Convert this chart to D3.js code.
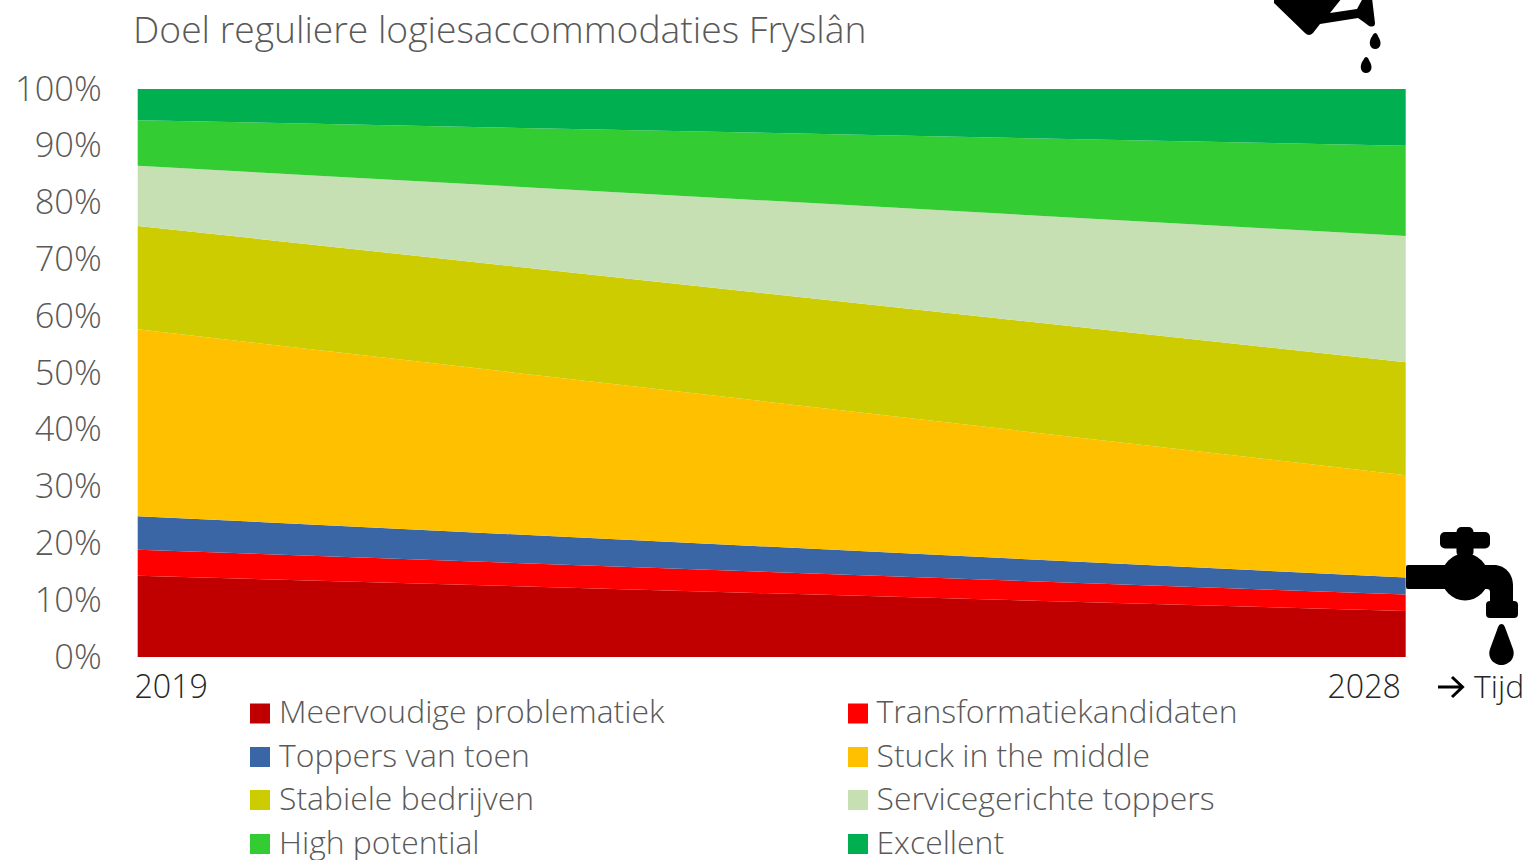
<!DOCTYPE html>
<html><head><meta charset="utf-8">
<script src="https://cdn.jsdelivr.net/npm/d3@7/dist/d3.min.js"></script>
<style>html,body{margin:0;padding:0;background:#fff;overflow:hidden}
text{font-family:"Open Sans",sans-serif;font-weight:300;fill:#595959}</style></head>
<body><svg id="c" width="1526" height="860"></svg>
<script>
const years = ["2019", "2028"];
const seriesNames = ["Meervoudige problematiek","Transformatiekandidaten","Toppers van toen","Stuck in the middle","Stabiele bedrijven","Servicegerichte toppers","High potential","Excellent"];
const seriesColors = ["#c00000","#ff0000","#3a66a5","#ffc000","#cccc00","#c6e0b4","#33cc33","#00b050"];
const values2019 = [14.3,4.6,5.9,32.9,18.2,10.6,8.0,5.5];
const values2028 = [8.1,2.9,3.0,18.0,19.9,22.2,15.9,10.0];
const yTicks = [0,10,20,30,40,50,60,70,80,90,100];

const svg = d3.select("#c");
const x = d3.scalePoint().domain(years).range([137.7,1405.7]);
const y = d3.scaleLinear().domain([0,100]).range([657,89]);

const rows = years.map((yr,i)=>{
  const r={year:yr};
  seriesNames.forEach((n,j)=>r[n]=(i?values2028:values2019)[j]);
  return r;
});
const stacked = d3.stack().keys(seriesNames)(rows);
const area = d3.area().x(d=>x(d.data.year)).y0(d=>y(d[0])).y1(d=>y(d[1]));
svg.append("g").selectAll("path").data(stacked).join("path")
  .attr("d",area).attr("fill",(d,i)=>seriesColors[i]);

// y axis labels
const yAxis = d3.axisLeft(y).tickValues(yTicks).tickFormat(d=>d+"%").tickSize(0).tickPadding(36);
const gy = svg.append("g").attr("transform","translate(137.7,0)").call(yAxis);
gy.select(".domain").remove();
gy.selectAll("text").attr("font-size",34.4).style("font-family",'"Open Sans",sans-serif').attr("dy","0.32em");

// x labels
const dark = "#262626";
svg.append("text").attr("x",134.5).attr("y",697.5).attr("font-size",32.2).style("fill",dark).text(years[0]);
svg.append("text").attr("x",1401).attr("y",697.5).attr("text-anchor","end").attr("font-size",32.2).style("fill",dark).text(years[1]);
svg.append("text").attr("x",1474).attr("y",697.5).attr("font-size",31.9).style("fill",dark).text("Tijd");
svg.append("path").attr("d","M1438 687H1462M1452 677L1462.5 687L1452 697").attr("fill","none").attr("stroke","#000").attr("stroke-width",3);

// title
svg.append("text").attr("x",133).attr("y",43).attr("font-size",37.25).text("Doel reguliere logiesaccommodaties Fryslân");

// legend
const legendX = [250,848], legendY = [713.5,757,800,844];
const lg = svg.append("g").selectAll("g").data(seriesNames).join("g")
  .attr("transform",(d,i)=>`translate(${legendX[i%2]},${legendY[Math.floor(i/2)]})`);
lg.append("rect").attr("y",-10).attr("width",20).attr("height",20).attr("fill",(d,i)=>seriesColors[i]);
lg.append("text").attr("x",(d,i)=>i%2?28.5:29).attr("y",9.5).attr("font-size",31.9).text(d=>d);

// tap icon
const tap = svg.append("g").attr("fill","#000");
tap.append("rect").attr("x",1440).attr("y",532).attr("width",50).attr("height",16.5).attr("rx",5);
tap.append("rect").attr("x",1456.5).attr("y",527).attr("width",17).attr("height",30).attr("rx",5);
tap.append("circle").attr("cx",1465).attr("cy",577).attr("r",23.5);
tap.append("path").attr("d","M1408 565H1494C1505 565 1513 574 1513 585V604H1490V592C1490 590 1489 589 1487 589H1408Q1406 589 1406 587V567Q1406 565 1408 565Z");
tap.append("rect").attr("x",1486).attr("y",601).attr("width",32).attr("height",17).attr("rx",4);
tap.append("path").attr("d","M1501.5 624C1504 624 1505 627 1506 630L1513 649C1516 658 1509 665 1501.5 665C1494 665 1487 658 1490 649L1497 630C1498 627 1499 624 1501.5 624Z");

// watering can icon
const can = svg.append("g").attr("fill","#000");
can.append("path").attr("d","M1274 3L1305 33Q1309 37 1313 33L1320 24L1358 18Q1364 22 1369 26Q1375 28 1375 23L1372 -2H1363L1357 9L1330 13L1342 -2H1274Z");
can.append("path").attr("d","M1375.3 33C1377 33 1378 36 1379 38C1382 43 1380.5 49 1375.3 49C1370 49 1368.5 43 1371 38C1372.5 36 1373.5 33 1375.3 33Z");
can.append("path").attr("d","M1366 57C1368 57 1369 60 1370 62C1373 67 1371.5 73 1366 73C1361 73 1359.5 67 1362 62C1363.5 60 1364.5 57 1366 57Z");
</script></body></html>
